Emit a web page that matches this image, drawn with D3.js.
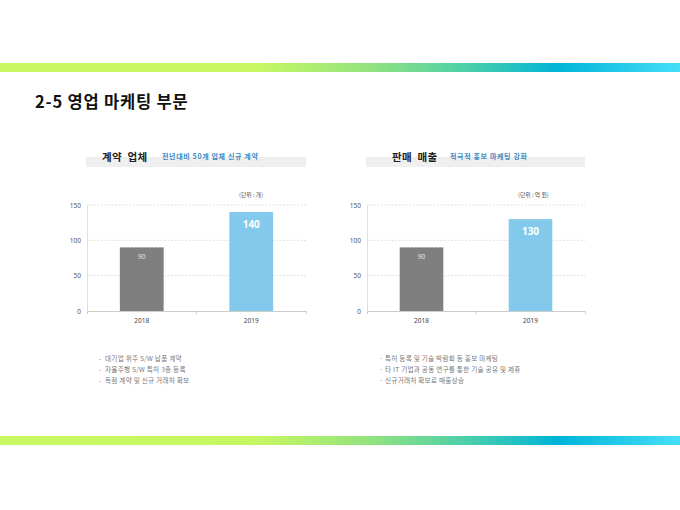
<!DOCTYPE html>
<html>
<head>
<meta charset="utf-8">
<script src="https://cdn.jsdelivr.net/npm/d3@7"></script>
<style>
  body { margin: 0; background: #fff; }
  svg { display: block; font-family: "Noto Sans CJK KR", "Noto Sans", sans-serif; }
</style>
</head>
<body>
<div id="slide"></div>
<script>
var years = ["2018", "2019"]
var contractValues = [90, 140]
var salesValues = [90, 130]
var yTicks = [0, 50, 100, 150]
var contractNotes = ["대기업 위주 S/W 납품 계약", "자율주행 S/W 특허 3종 등록", "독점 계약 및 신규 거래처 확보"]
var salesNotes = ["특허 등록 및 기술 박람회 등 홍보 마케팅", "타 IT 기업과 공동 연구를 통한 기술 공유 및 제휴", "신규거래처 확보로 매출상승"]

var w = 680, h = 510

var svg = d3.select("#slide").append("svg")
  .attr("width", w)
  .attr("height", h)

// gradient bands top and bottom
var grad = svg.append("defs").append("linearGradient").attr("id", "band")
var stops = [[0, "#c8f763"], [0.38, "#c6f763"], [0.55, "#8fe27f"], [0.68, "#4fd0a8"], [0.82, "#00b4d8"], [1, "#45def9"]]
grad.selectAll("stop").data(stops).enter().append("stop")
  .attr("offset", function(d) { return d[0] })
  .attr("stop-color", function(d) { return d[1] })

svg.append("rect").attr("x", 0).attr("y", 63).attr("width", w).attr("height", 9).attr("fill", "url(#band)")
svg.append("rect").attr("x", 0).attr("y", 436).attr("width", w).attr("height", 9).attr("fill", "url(#band)")

svg.append("text")
  .attr("x", 35).attr("y", 108)
  .attr("font-size", 16.5).attr("font-weight", "bold").attr("fill", "#111")
  .attr("letter-spacing", 0.8)
  .text("2-5 영업 마케팅 부문")

var y = d3.scaleLinear().domain([0, 150]).range([311, 205])

function panel(left, right, title, titleX, sub, subX, unit, values, notes, bullet) {
  var g = svg.append("g")

  // header strip
  g.append("rect").attr("x", left - 1).attr("y", 157).attr("width", right - left + 1).attr("height", 10).attr("fill", "#efefef")
  g.append("text").attr("x", titleX).attr("y", 161)
    .attr("font-size", 10.5).attr("font-weight", "bold").attr("fill", "#222")
    .attr("letter-spacing", 0.3).attr("word-spacing", 3)
    .text(title)
  g.append("text").attr("x", subX).attr("y", 159)
    .attr("font-size", 7).attr("font-weight", "bold").attr("fill", "#3b88c4")
    .attr("letter-spacing", 0.65)
    .text(sub)
  g.append("text").attr("x", right - 67).attr("y", 197)
    .attr("font-size", 5.8).attr("fill", "#555")
    .text(unit)

  var x = d3.scaleBand().domain(years).range([left, right]).paddingInner(0.6).paddingOuter(0.3)

  // gridlines
  g.selectAll(".grid").data(yTicks.filter(function(d) { return d > 0 })).enter().append("line")
    .attr("x1", left).attr("x2", right)
    .attr("y1", function(d) { return y(d) }).attr("y2", function(d) { return y(d) })
    .attr("stroke", "#d4d4d4").attr("stroke-width", 0.7).attr("stroke-dasharray", "2,1.5")

  var ya = g.append("g").attr("transform", "translate(" + left + ",0)")
    .call(d3.axisLeft(y).tickValues(yTicks).tickSize(0).tickSizeOuter(0).tickPadding(6))
  ya.select(".domain").attr("stroke", "#d4d4d4").attr("stroke-width", 0.7)
  ya.selectAll("text").attr("font-size", 6.5).attr("fill", "#555").attr("font-family", "\"Noto Sans\", sans-serif")

  var xa = g.append("g").attr("transform", "translate(0,311)")
    .call(d3.axisBottom(x).tickSize(0).tickSizeOuter(3).tickPadding(7))
  xa.select(".domain").attr("stroke", "#bfbfbf").attr("stroke-width", 0.8)
  xa.selectAll("text").attr("font-size", 6.5).attr("fill", "#444").attr("font-family", "\"Noto Sans\", sans-serif")
  var mid = (x(years[0]) + x.bandwidth() + x(years[1])) / 2
  xa.append("line").attr("x1", mid).attr("x2", mid).attr("y1", 0).attr("y2", 3).attr("stroke", "#bfbfbf").attr("stroke-width", 0.8)

  g.selectAll(".bar").data(values).enter().append("rect")
    .attr("x", function(d, i) { return x(years[i]) })
    .attr("y", function(d) { return y(d) })
    .attr("width", x.bandwidth())
    .attr("height", function(d) { return y(0) - y(d) })
    .attr("fill", function(d, i) { return i === 0 ? "#7f7f7f" : "#82c9eb" })

  g.selectAll(".val").data(values).enter().append("text")
    .attr("x", function(d, i) { return x(years[i]) + x.bandwidth() / 2 })
    .attr("y", function(d, i) { return y(d) + (i === 0 ? 12 : 15.5) })
    .attr("text-anchor", "middle")
    .attr("font-family", "\"Noto Sans\", sans-serif")
    .attr("font-size", function(d, i) { return i === 0 ? 6.5 : 10 })
    .attr("font-weight", function(d, i) { return i === 0 ? "normal" : "bold" })
    .attr("fill", function(d, i) { return i === 0 ? "#e6e6e6" : "#fff" })
    .text(function(d) { return d })

  var n = g.selectAll(".note").data(notes).enter().append("g")
    .attr("transform", function(d, i) { return "translate(" + (left + 12) + "," + (361 + i * 10.8) + ")" })
  n.append("text").attr("x", 0).attr("font-size", 6.6).attr("fill", "#777").text(bullet)
  n.append("text").attr("x", 6).attr("font-size", 6.6).attr("fill", "#777")
    .attr("letter-spacing", 0.25)
    .text(function(d) { return d })
}

panel(87, 306, "계약 업체", 102, "전년대비 50개 업체 신규 계약", 162, "(단위 : 개)", contractValues, contractNotes, "-")
panel(367, 585, "판매 매출", 392, "적극적 홍보 마케팅 강화", 450, "(단위 : 억 원)", salesValues, salesNotes, "·")
</script>
</body>
</html>
